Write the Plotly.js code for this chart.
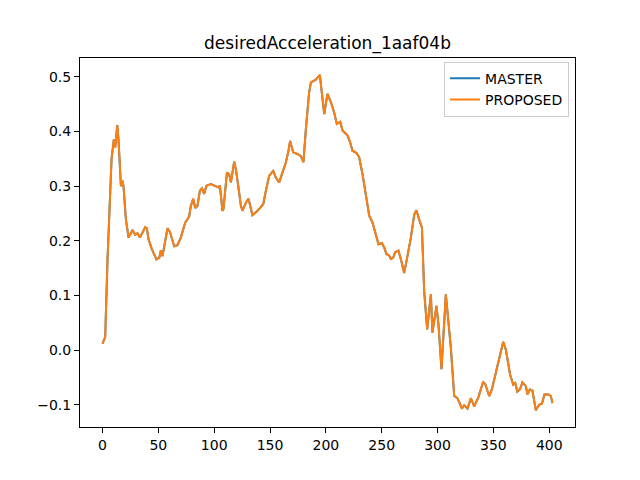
<!DOCTYPE html>
<html>
<head>
<meta charset="utf-8">
<script src="https://cdn.plot.ly/plotly-3.0.1.min.js"></script>
<style>html,body{margin:0;padding:0;background:#fff;}#chart{width:640px;height:480px;}</style>
</head>
<body>
<div id="chart"></div>
<script>
const chartTitle = "desiredAcceleration_1aaf04b";
const seriesNames = ["MASTER", "PROPOSED"];

const frameIndex = [0, 2.4, 4.5, 6.6, 8.1, 10.2, 11.4, 13.2, 14.3, 16.5, 17.9, 18.8, 20.9, 23.3, 26.9, 29.3, 31.3, 33.5, 38.2, 39.7,
  41.2, 44.2, 47.8, 48.3, 50.8, 52.3, 53.7, 58.2, 60.3, 64.2, 67.1, 70.1, 74.0, 77.6, 79.1, 81.2, 83.0, 85.0, 87.2, 89.0,
  91.0, 93.1, 97.0, 100.0, 103.8, 105.1, 107.4, 108.3, 111.4, 113.4, 115.0, 117.9, 119.4, 121.5, 123.9, 125.3, 128.4, 130.7, 134.3, 138.8,
  143.9, 146.3, 149.2, 152.8, 155.2, 158.2, 161.1, 164.2, 166.5, 168.0, 170.7, 174.6, 177.6, 179.9, 182.1, 185.0, 186.6, 191.0, 194.6, 196.4,
  198.5, 201.4, 204.5, 207.4, 209.8, 212.8, 214.9, 217.9, 219.3, 221.8, 223.8, 227.4, 229.8, 232.8, 235.8, 238.8, 241.7, 244.8, 247.1, 250.1,
  252.2, 254.2, 256.7, 258.2, 260.2, 262.0, 265.0, 267.1, 270.1, 273.1, 276.1, 279.1, 281.1, 283.5, 286.0, 288.0, 290.7, 294.0, 295.4, 299.0,
  300.8, 303.5, 307.4, 311.9, 314.9, 317.8, 321.8, 323.8, 326.8, 329.8, 332.8, 336.6, 340.8, 342.6, 346.2, 348.6, 352.2, 354.5, 356.7, 358.7,
  361.1, 365.0, 367.7, 369.5, 371.5, 373.7, 376.0, 379.0, 380.5, 382.6, 384.9, 388.0, 390.9, 393.4, 395.7, 399.3, 401.4, 402.9];

const masterValues = [0.012, 0.024, 0.167, 0.27, 0.35, 0.386, 0.371, 0.412, 0.386, 0.30, 0.31, 0.30, 0.24, 0.206, 0.22, 0.211, 0.214, 0.206, 0.225, 0.223,
  0.203, 0.185, 0.17, 0.166, 0.169, 0.183, 0.172, 0.223, 0.217, 0.19, 0.192, 0.206, 0.233, 0.245, 0.264, 0.277, 0.26, 0.264, 0.292, 0.296,
  0.286, 0.301, 0.304, 0.301, 0.298, 0.301, 0.255, 0.258, 0.325, 0.322, 0.307, 0.345, 0.331, 0.301, 0.264, 0.255, 0.27, 0.277, 0.247, 0.255,
  0.267, 0.292, 0.319, 0.328, 0.316, 0.307, 0.325, 0.344, 0.365, 0.383, 0.362, 0.359, 0.355, 0.344, 0.405, 0.472, 0.49, 0.495, 0.504, 0.466,
  0.432, 0.469, 0.454, 0.435, 0.414, 0.418, 0.402, 0.396, 0.393, 0.38, 0.365, 0.361, 0.353, 0.322, 0.283, 0.246, 0.234, 0.209, 0.194, 0.196,
  0.188, 0.176, 0.173, 0.167, 0.169, 0.179, 0.182, 0.167, 0.141, 0.173, 0.206, 0.248, 0.256, 0.239, 0.224, 0.108, 0.038, 0.102, 0.032, 0.081,
  0.047, -0.035, 0.102, 0.004, -0.084, -0.088, -0.107, -0.101, -0.107, -0.088, -0.103, -0.086, -0.058, -0.062, -0.084, -0.072, -0.042, -0.023, -0.002, 0.015,
  0.001, -0.045, -0.063, -0.06, -0.076, -0.072, -0.059, -0.066, -0.081, -0.072, -0.074, -0.11, -0.1, -0.098, -0.081, -0.081, -0.084, -0.097];

const proposedValues = masterValues.slice();

const xTickVals = [0, 50, 100, 150, 200, 250, 300, 350, 400];
const yTickVals = [-0.1, 0.0, 0.1, 0.2, 0.3, 0.4, 0.5];

const traces = [
  {x: frameIndex, y: masterValues, name: seriesNames[0], type: 'scatter', mode: 'lines',
   line: {color: '#1f77b4', width: 2}},
  {x: frameIndex, y: proposedValues, name: seriesNames[1], type: 'scatter', mode: 'lines',
   line: {color: '#ff7f0e', width: 2}}
];

const font = {family: 'DejaVu Sans', size: 14, color: '#000'};

const layout = {
  width: 640, height: 480,
  margin: {l: 80, r: 65, t: 58, b: 53},
  paper_bgcolor: '#fff', plot_bgcolor: '#fff',
  font: font,
  showlegend: true,
  title: {text: chartTitle, font: {family: 'DejaVu Sans', size: 17, color: '#000'},
          x: 0.5, xref: 'paper', xanchor: 'center', y: 0.91, yref: 'container', yanchor: 'middle'},
  xaxis: {range: [-20.15, 423.05], tickvals: xTickVals, ticks: 'outside', ticklen: 5, tickwidth: 1,
          tickcolor: '#000', showgrid: false, zeroline: false, showline: true, linecolor: '#000',
          linewidth: 1, mirror: true, tickfont: font},
  yaxis: {range: [-0.1407, 0.5347], tickvals: yTickVals, tickformat: '.1f', ticks: 'outside', ticklen: 5,
          tickwidth: 1, tickcolor: '#000', showgrid: false, zeroline: false, showline: true,
          linecolor: '#000', linewidth: 1, mirror: true, tickfont: font},
  legend: {x: 0.988, xanchor: 'right', y: 0.99, yanchor: 'top', bgcolor: 'rgba(255,255,255,0.8)',
           bordercolor: '#cccccc', borderwidth: 1, font: font, tracegroupgap: 0, itemwidth: 30}
};

Plotly.newPlot('chart', traces, layout, {staticPlot: true, displayModeBar: false});
</script>
</body>
</html>
